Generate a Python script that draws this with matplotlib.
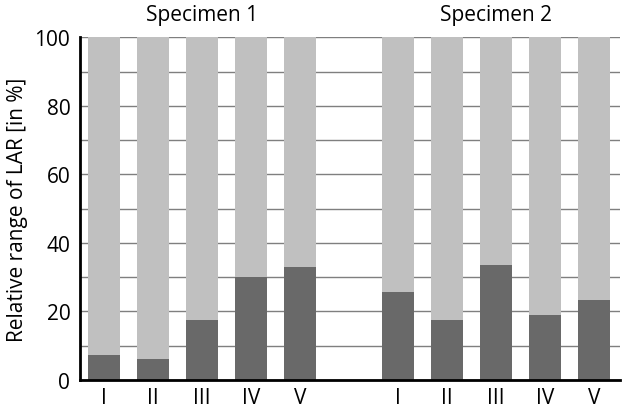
import matplotlib
matplotlib.use("Agg")
import matplotlib.pyplot as plt
from matplotlib.transforms import blended_transform_factory

plt.rcParams['font.family'] = ['Open Sans', 'DejaVu Sans']

categories = ["I", "II", "III", "IV", "V"]
groups = ["Specimen 1", "Specimen 2"]
specimen1 = [7.3, 6.1, 17.6, 30.1, 33.0]
specimen2 = [25.6, 17.5, 33.6, 19.0, 23.3]
total = 100

dark = "#696969"
light = "#c0c0c0"

fig = plt.figure(figsize=(6.22, 4.14), dpi=100)
ax = fig.add_axes([80/622, 1 - 381/414, 540/622, (381 - 38.3)/414])

width = 0.65
for g, vals in enumerate([specimen1, specimen2]):
    xs = [g * 6 + i for i in range(len(vals))]
    ax.bar(xs, vals, width=width, color=dark, zorder=2)
    ax.bar(xs, [total - v for v in vals], bottom=vals, width=width, color=light, zorder=2)

ax.set_xlim(-0.49, 10.53)
ax.set_ylim(0, 100)
ax.set_yticks(range(0, 101, 20))
ax.set_yticks(range(0, 101, 10), minor=True)
ax.grid(axis='y', which='both', color='#7f7f7f', linewidth=1.0, zorder=1)
ax.set_axisbelow(True)
ax.set_xticks(list(range(5)) + list(range(6, 11)))
ax.set_xticklabels(categories + categories)
ax.tick_params(axis='both', which='both', length=0, labelsize=15, colors='black')
ax.tick_params(axis='x', pad=5)
ax.tick_params(axis='y', pad=7)
for s in ['top', 'right']:
    ax.spines[s].set_visible(False)
for s in ['left', 'bottom']:
    ax.spines[s].set_linewidth(2)
    ax.spines[s].set_color('black')
ax.set_ylabel("Relative range of LAR [in %]", fontsize=15, labelpad=5)

trans = blended_transform_factory(ax.transData, fig.transFigure)
ax.text(2, 1 - 16/414, groups[0], transform=trans, ha='center', va='center', fontsize=15)
ax.text(8, 1 - 16/414, groups[1], transform=trans, ha='center', va='center', fontsize=15)

fig.savefig("out.png", dpi=100)
